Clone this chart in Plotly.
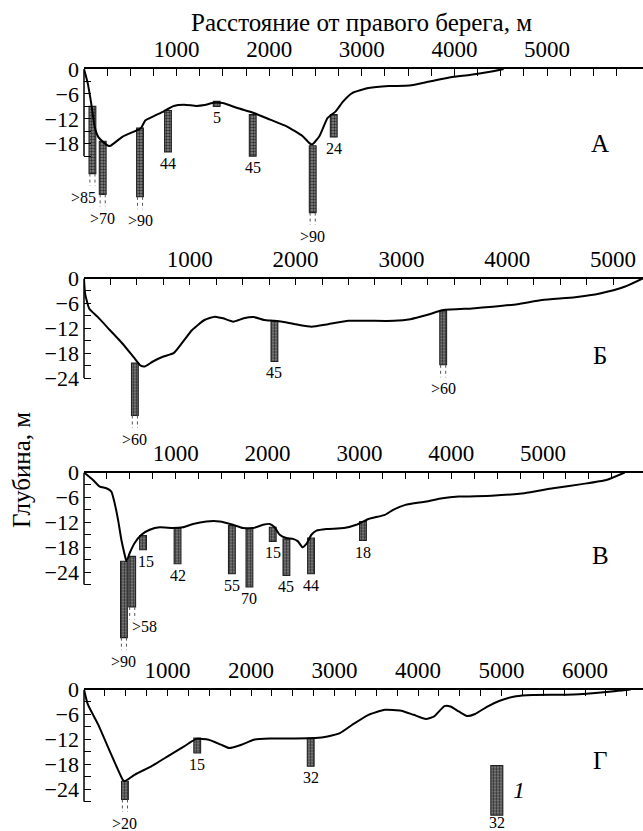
import plotly.graph_objects as go

# ---------------- DATA ----------------
# Panel А : bottom profile (distance m, depth m)
a_dist = [0, 40, 83, 116, 152, 218, 262, 285, 418, 569, 617, 661, 749, 861, 969, 1081,
          1214, 1303, 1411, 1498, 1657, 1833, 2011, 2189, 2362, 2431, 2462, 2542, 2631,
          2718, 2799, 2896, 3073, 3290, 3515, 3733, 3958, 4179, 4401, 4532]
a_depth = [0, -3.4, -9, -14, -16.3, -17.8, -18.5, -18.5, -16.3, -14.8, -14.2, -12.4, -11.4,
           -10.2, -8.9, -8.6, -8.9, -8.7, -8.1, -8.2, -9.4, -10.6, -12.2, -13.8, -16.2,
           -17.8, -18.2, -16.2, -11.8, -10.2, -7.8, -5.8, -4.6, -4.1, -4.0, -3.0, -2.0,
           -1.4, -0.6, 0]
a_bh_x = [91, 202, 605, 907, 1433, 1822, 2470, 2697]
a_bh_top = [-9.0, -17.4, -14.2, -10.0, -7.8, -11.0, -18.5, -11.0]
a_bh_bottom = [-25.2, -30.2, -30.8, -20.0, -9.0, -21.0, -34.6, -16.4]
a_bh_label = [">85", ">70", ">90", "44", "5", "45", ">90", "24"]

# Panel Б
b_dist = [0, 10, 49, 127, 244, 361, 477, 536, 575, 652, 750, 847, 925, 1022, 1139, 1236,
          1314, 1411, 1509, 1605, 1703, 1800, 1917, 2034, 2151, 2307, 2501, 2696, 2929,
          3085, 3240, 3396, 3669, 3863, 4097, 4330, 4642, 4876, 5109, 5280]
b_depth = [0, -3.6, -7.2, -9.2, -12.4, -15.6, -19.2, -21.0, -21.2, -20.0, -18.8, -18.0,
           -15.6, -12.4, -10.0, -9.2, -9.6, -10.4, -9.6, -9.3, -10.0, -10.2, -10.6, -11.2,
           -11.6, -11.0, -10.2, -10.2, -10.2, -9.8, -8.8, -7.6, -7.2, -6.8, -6.2, -5.2,
           -4.5, -3.6, -2.0, 0]
b_bh_x = [481, 1800, 3395]
b_bh_top = [-20.4, -10.2, -7.8]
b_bh_bottom = [-33.0, -20.0, -20.8]
b_bh_label = [">60", "45", ">60"]

# Panel В
v_dist = [0, 98, 171, 244, 298, 334, 371, 407, 443, 462, 498, 552, 625, 716, 825, 970,
          1078, 1187, 1333, 1478, 1623, 1732, 1841, 1950, 2023, 2077, 2132, 2205, 2277,
          2331, 2379, 2423, 2477, 2532, 2641, 2832, 2966, 3100, 3278, 3367, 3501, 3725,
          3903, 4082, 4439, 4796, 5109, 5422, 5690, 5890]
v_depth = [0, -1.8, -3.4, -3.8, -4.6, -7.4, -11.4, -16.2, -19.8, -21.4, -19.4, -17.0,
           -15.0, -13.8, -13.2, -13.4, -13.2, -12.4, -11.8, -11.8, -12.6, -13.4, -13.4,
           -12.6, -12.4, -13.2, -15.0, -15.8, -16.0, -16.6, -18.0, -17.2, -15.0, -14.0,
           -13.6, -13.4, -12.6, -11.2, -10.2, -9.0, -7.8, -7.0, -6.2, -5.8, -5.6, -5.0,
           -3.8, -2.8, -1.8, 0]
v_bh_x = [435, 525, 643, 1019, 1611, 1802, 2056, 2205, 2473, 3039]
v_bh_top = [-21.4, -20.2, -15.2, -13.4, -12.8, -13.4, -13.2, -16.0, -15.8, -11.8]
v_bh_bottom = [-39.8, -32.4, -18.6, -22.0, -24.4, -27.6, -16.6, -24.8, -24.4, -16.4]
v_bh_label = [">90", ">58", "15", "42", "55", "70", "15", "45", "44", "18"]

# Panel Г
g_dist = [0, 46, 169, 316, 463, 487, 610, 806, 1002, 1199, 1346, 1493, 1640, 1739, 1886,
          2034, 2230, 2524, 2770, 2917, 3065, 3212, 3408, 3604, 3800, 3948, 4095, 4193,
          4316, 4389, 4488, 4586, 4684, 4831, 4979, 5175, 5371, 5862, 6255, 6547]
g_depth = [0, -3.6, -8.4, -15.2, -21.7, -22.1, -20.5, -18.5, -16.1, -13.7, -11.9, -12.1,
           -13.3, -14.1, -13.3, -12.1, -11.8, -11.8, -11.7, -11.3, -10.5, -8.5, -6.1, -4.9,
           -5.1, -6.1, -7.1, -6.5, -4.0, -4.1, -5.3, -6.4, -5.9, -4.1, -2.7, -1.6, -1.3,
           -1.2, -0.6, 0]
g_bh_x = [490, 1356, 2715]
g_bh_top = [-22.1, -11.7, -11.7]
g_bh_bottom = [-26.5, -15.3, -18.5]
g_bh_label = [">20", "15", "32"]

# legend sample (panel Г)
legend_x = [4944]
legend_top = [-18.3]
legend_bottom = [-30.3]
legend_label = ["32"]
legend_name = "1"

panel_letters = ["А", "Б", "В", "Г"]
x_tick_vals = [[1000, 2000, 3000, 4000, 5000], [1000, 2000, 3000, 4000, 5000],
               [1000, 2000, 3000, 4000, 5000], [1000, 2000, 3000, 4000, 5000, 6000]]
x_minor_last = [5750, 5000, 5750, 6500]
y_tick_vals = [[0, -3, -6, -9, -12, -15, -18, -21],
               [0, -3, -6, -9, -12, -15, -18, -21, -24],
               [0, -3, -6, -9, -12, -15, -18, -21, -24, -27],
               [0, -3, -6, -9, -12, -15, -18, -21, -24, -27]]

# ---------------- LAYOUT GEOMETRY (style) ----------------
W, H = 643, 831
L = 84
PX_PER_M = 4.15
panel_top_px = [69, 278.5, 472.5, 689.5]
panel_ymin = [-40, -40, -46, -32]
px_per_km = [92.6, 105.8, 91.8, 83.5]
bar_px = 6.8
ext_m = 3.0
FONT = "Liberation Serif"

# label offsets (px) per borehole label
label_dx = [[-9, 0, 0, 0, 0, 0, 0, 0],
            [0, 0, 0],
            [0, 12, 3, 0, 0, 0, 0, 0, 0, 0],
            [0, 0, 0]]
label_dy = [[0, 0, 0, 0, 0, 0, 0, 0],
            [0, 0, 0],
            [0, 4, 0, 0, 0, 0, 0, 0, 0, 0],
            [0, 0, 0]]

panels = [
    (a_dist, a_depth, a_bh_x, a_bh_top, a_bh_bottom, a_bh_label),
    (b_dist, b_depth, b_bh_x, b_bh_top, b_bh_bottom, b_bh_label),
    (v_dist, v_depth, v_bh_x, v_bh_top, v_bh_bottom, v_bh_label),
    (g_dist, g_depth, g_bh_x, g_bh_top, g_bh_bottom, g_bh_label),
]

bar_marker = dict(color="#6e6e6e",
                  pattern=dict(shape=".", fgcolor="#2e2e2e", bgcolor="#8a8a8a",
                               size=3, solidity=0.5),
                  line=dict(color="#222222", width=1.1))

fig = go.Figure()
annotations = []
shapes = []
layout_axes = {}

for i, (dist, depth, bx, btop, bbot, blab) in enumerate(panels):
    k = "" if i == 0 else str(i + 1)
    xa, ya = "x" + k, "y" + k
    xrange_max = (W - L) / px_per_km[i] * 1000
    w_m = bar_px / px_per_km[i] * 1000

    fig.add_trace(go.Bar(x=bx, y=[b - t for t, b in zip(btop, bbot)], base=btop,
                         width=[w_m] * len(bx), marker=bar_marker,
                         xaxis=xa, yaxis=ya, showlegend=False, hoverinfo="skip"))
    # dotted continuation for incomplete holes (">")
    dx, dy = [], []
    for x, b, lab in zip(bx, bbot, blab):
        if lab.startswith(">"):
            for s in (-1, 1):
                dx += [x + s * w_m / 2 * 0.75, x + s * w_m / 2 * 0.75, None]
                dy += [b, b - ext_m, None]
    if dx:
        fig.add_trace(go.Scatter(x=dx, y=dy, mode="lines",
                                 line=dict(color="#555", width=1, dash="dot"),
                                 xaxis=xa, yaxis=ya, showlegend=False, hoverinfo="skip"))
    fig.add_trace(go.Scatter(x=dist, y=depth, mode="lines",
                             line=dict(color="black", width=2, shape="spline", smoothing=0.5),
                             xaxis=xa, yaxis=ya, showlegend=False, hoverinfo="skip"))
    for j, (x, b, lab) in enumerate(zip(bx, bbot, blab)):
        yb = b - ext_m if lab.startswith(">") else b
        annotations.append(dict(x=x, y=yb, xref=xa, yref=ya, text=lab, showarrow=False,
                                xanchor="center", yanchor="top",
                                xshift=label_dx[i][j], yshift=-1 + label_dy[i][j],
                                font=dict(family=FONT, size=16, color="black")))

    top_px = panel_top_px[i]
    bot_px = top_px + abs(panel_ymin[i]) * PX_PER_M
    dom = [1 - bot_px / H, 1 - top_px / H]

    minor_vals = list(range(0, x_minor_last[i] + 1, 250))
    layout_axes["xaxis" + k] = dict(
        domain=[0, 1], range=[0, xrange_max], anchor=ya, side="top", automargin=False,
        showline=True, linecolor="black", linewidth=1.5, mirror=False,
        ticks="inside", ticklen=7, tickwidth=1.2, tickcolor="black",
        tickmode="array", tickvals=x_tick_vals[i], ticktext=[str(v) for v in x_tick_vals[i]],
        minor=dict(tickmode="array", tickvals=minor_vals, ticks="inside", ticklen=7,
                   tickwidth=1.2, tickcolor="black"),
        showgrid=False, zeroline=False, fixedrange=True,
        tickfont=dict(family=FONT, size=23, color="black"), ticklabelstandoff=1)
    ytext = [("\u2212" + str(-v) if v < 0 else str(v)) if v % 6 == 0 else "" for v in y_tick_vals[i]]
    layout_axes["yaxis" + k] = dict(
        domain=dom, range=[panel_ymin[i], 0], anchor=xa, automargin=False,
        showline=False, ticks="inside", ticklen=7, tickwidth=1.2, tickcolor="black",
        tickmode="array", tickvals=y_tick_vals[i], ticktext=ytext,
        showgrid=False, zeroline=False, fixedrange=True,
        tickfont=dict(family=FONT, size=22, color="black"), ticklabelstandoff=4)
    # vertical axis line, only along the labelled depth interval
    shapes.append(dict(type="line", xref="paper", yref=ya, x0=0, x1=0,
                       y0=0, y1=min(y_tick_vals[i]),
                       line=dict(color="black", width=1.5)))
    # panel letter
    annotations.append(dict(x=(600 - L) / (W - L), y=1 - (top_px + [74, 77, 83, 71][i]) / H,
                            xref="paper", yref="paper", text=panel_letters[i],
                            xanchor="center", yanchor="middle",
                            showarrow=False, font=dict(family=FONT, size=25, color="black")))

# legend sample in panel Г
w_leg = 12 / px_per_km[3] * 1000
fig.add_trace(go.Bar(x=legend_x, y=[b - t for t, b in zip(legend_top, legend_bottom)],
                     base=legend_top, width=[w_leg], marker=bar_marker,
                     xaxis="x4", yaxis="y4", showlegend=False, hoverinfo="skip"))
annotations.append(dict(x=legend_x[0], y=legend_bottom[0], xref="x4", yref="y4",
                        text=legend_label[0], showarrow=False, yanchor="top", yshift=3,
                        font=dict(family=FONT, size=16, color="black")))
annotations.append(dict(x=legend_x[0], y=(legend_top[0] + legend_bottom[0]) / 2,
                        xref="x4", yref="y4", text="<i>" + legend_name + "</i>",
                        showarrow=False, xanchor="left", yanchor="middle", xshift=14,
                        font=dict(family=FONT, size=24, color="black")))

# titles
annotations.append(dict(x=(361 - L) / (W - L), y=1 - 22 / H, xref="paper", yref="paper",
                        text="Расстояние от правого берега, м", showarrow=False,
                        xanchor="center", yanchor="middle",
                        font=dict(family=FONT, size=25, color="black")))
annotations.append(dict(x=(21 - L) / (W - L), y=1 - 470 / H, xref="paper", yref="paper",
                        text="Глубина, м", textangle=-90, showarrow=False,
                        xanchor="center", yanchor="middle",
                        font=dict(family=FONT, size=25, color="black")))

fig.update_layout(template="none", width=W, height=H, margin=dict(l=L, r=0, t=0, b=0),
                  paper_bgcolor="white", plot_bgcolor="white", barmode="overlay",
                  showlegend=False, annotations=annotations, shapes=shapes, **layout_axes)

fig.write_html("out.html", config={"displayModeBar": False})
